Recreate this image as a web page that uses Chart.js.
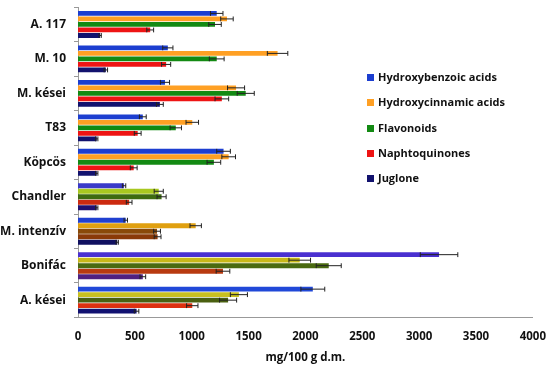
<!DOCTYPE html>
<html>
<head>
<meta charset="utf-8">
<script src="https://cdn.jsdelivr.net/npm/chart.js@4"></script>
<style>
  body { margin: 0; background: #fff; }
  #wrap { position: relative; width: 550px; height: 367px; overflow: hidden; }
  #mychart { position: absolute; left: 0; top: -8px; }
  #legend { position: absolute; left: 367px; top: 68px; font: bold 11px "Open Sans", sans-serif; color: #111; }
  #legend div { height: 25.3px; line-height: 18px; white-space: nowrap; }
  #legend span { display: inline-block; width: 7px; height: 7px; margin-right: 4px; vertical-align: 0px; }
</style>
</head>
<body>
<div id="wrap">
  <canvas id="mychart" width="554" height="375"></canvas>
  <div id="legend"></div>
</div>
<script>
const categories = ['A. 117', 'M. 10', 'M. kései', 'T83', 'Köpcös', 'Chandler', 'M. intenzív', 'Bonifác', 'A. kései'];
const seriesNames = ['Hydroxybenzoic acids', 'Hydroxycinnamic acids', 'Flavonoids', 'Naphtoquinones', 'Juglone'];

// mg/100 g d.m., top to bottom
const hydroxybenzoic = [1220, 790, 765, 570, 1280, 405, 420, 3175, 2065];
const hydroxycinnamic = [1310, 1755, 1390, 1005, 1325, 710, 1035, 1950, 1415];
const flavonoids = [1205, 1220, 1475, 860, 1195, 735, 695, 2205, 1320];
const naphtoquinones = [635, 775, 1265, 525, 490, 450, 700, 1275, 1005];
const juglone = [195, 245, 720, 165, 165, 165, 345, 570, 515];

// standard deviations
const hydroxybenzoicErr = [55, 45, 40, 30, 60, 15, 15, 165, 105];
const hydroxycinnamicErr = [55, 90, 75, 55, 60, 40, 50, 95, 75];
const flavonoidsErr = [55, 65, 75, 50, 60, 40, 30, 110, 75];
const naphtoquinonesErr = [30, 40, 60, 30, 30, 25, 30, 60, 50];
const jugloneErr = [10, 15, 30, 10, 10, 10, 10, 25, 20];

const baseColors = ['#1c3ed0', '#ffa024', '#138a13', '#ee1414', '#12126e'];
// the lower groups look tinted in the picture
const tint = {
  'Chandler':    ['#3a3ac8', '#a8c820', '#3d6b10', '#cc2a10', '#201070'],
  'M. intenzív': ['#2040d0', '#e0a010', '#8a4a08', '#8a3a08', '#101060'],
  'Bonifác':     ['#4a30d0', '#c8b818', '#4a6a10', '#b83a10', '#502080'],
  'A. kései':    ['#2048d8', '#c8c020', '#4a6010', '#dd3010', '#101070']
};

const values = [hydroxybenzoic, hydroxycinnamic, flavonoids, naphtoquinones, juglone];
const errors = [hydroxybenzoicErr, hydroxycinnamicErr, flavonoidsErr, naphtoquinonesErr, jugloneErr];

const data = {
  labels: categories,
  datasets: seriesNames.map((name, i) => ({
    label: name,
    data: values[i],
    err: errors[i],
    backgroundColor: categories.map(c => tint[c] ? tint[c][i] : baseColors[i]),
    categoryPercentage: 0.8,
    barPercentage: 0.88,
  }))
};

// error bars drawn from the data through the x scale
const errorBars = {
  id: 'errorBars',
  afterDatasetsDraw(chart) {
    const ctx = chart.ctx;
    const xs = chart.scales.x;
    ctx.save();
    ctx.strokeStyle = '#222';
    ctx.lineWidth = 1;
    chart.data.datasets.forEach((ds, di) => {
      chart.getDatasetMeta(di).data.forEach((bar, j) => {
        const v = ds.data[j], e = ds.err[j];
        const x1 = xs.getPixelForValue(v - e), x2 = xs.getPixelForValue(v + e);
        const h = bar.height / 2;
        ctx.beginPath();
        ctx.moveTo(x1, bar.y); ctx.lineTo(x2, bar.y);
        ctx.moveTo(x1, bar.y - h); ctx.lineTo(x1, bar.y + h);
        ctx.moveTo(x2, bar.y - h); ctx.lineTo(x2, bar.y + h);
        ctx.stroke();
      });
    });
    ctx.restore();
  }
};

const boldFont = (size) => ({ family: '"Open Sans"', weight: 'bold', size: size });

const config = {
  type: 'bar',
  data: data,
  options: {
    indexAxis: 'y',
    responsive: false,
    animation: false,
    layout: { padding: { left: 0, right: 8, top: 0, bottom: 0 } },
    plugins: { legend: { display: false }, tooltip: { enabled: false } },
    scales: {
      x: {
        min: 0, max: 4000,
        ticks: { stepSize: 500, color: '#111', font: boldFont(11.5), padding: 8, callback: v => String(v) },
        grid: { display: false, drawOnChartArea: false, drawTicks: true, tickLength: 4, color: '#999' },
        border: { color: '#999' },
        title: { display: true, text: 'mg/100 g d.m.', color: '#111', font: boldFont(11.5), padding: { top: 0, bottom: 2 } }
      },
      y: {
        ticks: { color: '#111', font: boldFont(12), padding: 8 },
        grid: { display: true, drawOnChartArea: false, offset: true, tickLength: 4, color: '#999' },
        border: { color: '#999' },
        afterFit(scale) { scale.width = 78; }
      }
    }
  },
  plugins: [errorBars]
};

let chart = new Chart(document.querySelector('#mychart'), config);

const legend = document.getElementById('legend');
seriesNames.forEach((name, i) => {
  const row = document.createElement('div');
  row.innerHTML = '<span style="background:' + baseColors[i] + '"></span>' + name;
  legend.appendChild(row);
});
</script>
</body>
</html>
